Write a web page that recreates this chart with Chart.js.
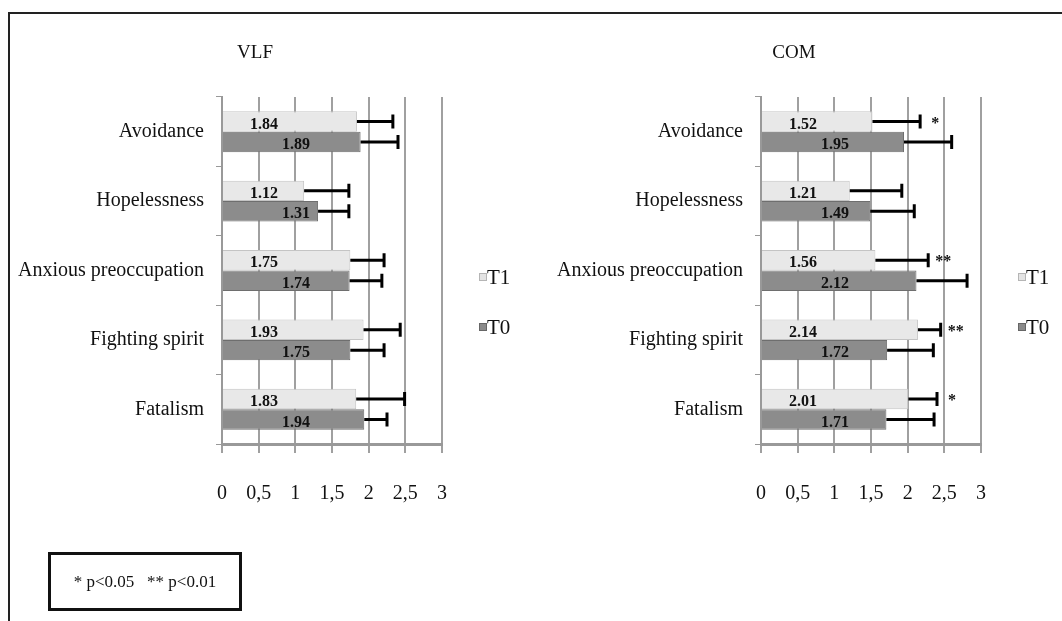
<!DOCTYPE html>
<html>
<head>
<meta charset="utf-8">
<script src="https://cdn.jsdelivr.net/npm/chart.js@4.4.0/dist/chart.umd.min.js"></script>
<style>
  body { margin: 0; background: #fff; }
  #page { position: relative; width: 1062px; height: 621px; overflow: hidden; background: #fff; }
  #frame { position: absolute; left: 8px; top: 12px; width: 1060px; height: 620px;
           border-left: 2px solid #222; border-top: 2px solid #222; }
  canvas { position: absolute; top: 0; }
  #c1 { left: 0; }
  #c2 { left: 539px; }
  #note { position: absolute; left: 48px; top: 552px; width: 188px; height: 53px;
          border: 3px solid #111; font: 17px "Liberation Serif", serif; color: #111;
          line-height: 53px; text-align: center; white-space: pre; }
</style>
</head>
<body>
<div id="page">
  <div id="frame"></div>
  <canvas id="c1" width="523" height="621"></canvas>
  <canvas id="c2" width="523" height="621"></canvas>
  <div id="note">* p&lt;0.05   ** p&lt;0.01</div>
</div>
<script>
/* ---------- data ---------- */
const categories = ["Avoidance", "Hopelessness", "Anxious preoccupation", "Fighting spirit", "Fatalism"];
const seriesNames = ["T1", "T0"];
const xTickLabels = ["0", "0,5", "1", "1,5", "2", "2,5", "3"];

// VLF
const vlfT1 = [1.84, 1.12, 1.75, 1.93, 1.83];
const vlfT0 = [1.89, 1.31, 1.74, 1.75, 1.94];
const vlfErrT1 = [0.49, 0.61, 0.46, 0.50, 0.66];
const vlfErrT0 = [0.51, 0.42, 0.44, 0.46, 0.31];
const vlfSig = ["", "", "", "", ""];

// COM
const comT1 = [1.52, 1.21, 1.56, 2.14, 2.01];
const comT0 = [1.95, 1.49, 2.12, 1.72, 1.71];
const comErrT1 = [0.65, 0.71, 0.72, 0.31, 0.39];
const comErrT0 = [0.65, 0.60, 0.69, 0.63, 0.65];
const comSig = ["*", "", "**", "**", "*"];

const SERIF = '"Liberation Serif", "Times New Roman", serif';

/* ---------- error bars, labels, legend, title ---------- */
const extrasPlugin = {
  id: "extras",
  afterDatasetsDraw(chart, args, opts) {
    const ctx = chart.ctx;
    const xs = chart.scales.x;
    const area = chart.chartArea;
    ctx.save();
    chart.data.datasets.forEach((ds, di) => {
      const meta = chart.getDatasetMeta(di);
      meta.data.forEach((bar, i) => {
        const v = ds.data[i];
        const xEnd = xs.getPixelForValue(v + ds.errors[i]);
        const x0 = xs.getPixelForValue(v);
        // error bar
        ctx.strokeStyle = "#000";
        ctx.lineWidth = 3;
        ctx.beginPath();
        ctx.moveTo(x0, bar.y);
        ctx.lineTo(xEnd, bar.y);
        ctx.moveTo(xEnd, bar.y - 7);
        ctx.lineTo(xEnd, bar.y + 7);
        ctx.stroke();
        // value label
        ctx.fillStyle = "#111";
        ctx.font = "bold 16px " + SERIF;
        ctx.textAlign = "center";
        ctx.textBaseline = "middle";
        const lx = area.left + (di === 0 ? 42 : 74);
        ctx.fillText(v.toFixed(2), lx, bar.y + 3);
        // significance marks next to T1 error bar
        if (di === 0 && opts.sig[i]) {
          ctx.font = "bold 16px " + SERIF;
          ctx.fillText(opts.sig[i], xEnd + 15, bar.y + 2);
        }
      });
    });
    ctx.restore();
  },
  afterDraw(chart, args, opts) {
    const ctx = chart.ctx;
    const area = chart.chartArea;
    ctx.save();
    // title
    ctx.fillStyle = "#111";
    ctx.font = "19px " + SERIF;
    ctx.textAlign = "center";
    ctx.textBaseline = "middle";
    ctx.fillText(opts.title, area.left + 33, 53);
    // legend
    const lx = 479;
    const items = [
      { y: 277, fill: "#e4e4e4", stroke: "#b5b5b5" },
      { y: 327, fill: "#8a8a8a", stroke: "#666" }
    ];
    items.forEach((it, k) => {
      ctx.fillStyle = it.fill;
      ctx.strokeStyle = it.stroke;
      ctx.lineWidth = 1;
      ctx.fillRect(lx, it.y - 4, 8, 8);
      ctx.strokeRect(lx + 0.5, it.y - 3.5, 7, 7);
      ctx.fillStyle = "#111";
      ctx.font = "21px " + SERIF;
      ctx.textAlign = "left";
      ctx.fillText(seriesNames[k], lx + 8, it.y + 1);
    });
    ctx.restore();
  }
};

function makeChart(id, title, t1, t0, e1, e0, sig) {
  return new Chart(document.getElementById(id), {
    type: "bar",
    data: {
      labels: categories,
      datasets: [
        {
          label: seriesNames[0],
          data: t1,
          errors: e1,
          backgroundColor: "#e8e8e8",
          borderColor: "#c4c4c4",
          borderWidth: 1,
          categoryPercentage: 0.59,
          barPercentage: 1
        },
        {
          label: seriesNames[1],
          data: t0,
          errors: e0,
          backgroundColor: "#8c8c8c",
          borderColor: "#6e6e6e",
          borderWidth: 1,
          categoryPercentage: 0.59,
          barPercentage: 1
        }
      ]
    },
    options: {
      indexAxis: "y",
      responsive: false,
      animation: false,
      layout: { padding: { top: 97, right: 81, left: 0, bottom: 0 } },
      scales: {
        x: {
          min: 0,
          max: 3,
          ticks: {
            stepSize: 0.5,
            padding: 29,
            color: "#111",
            font: { family: SERIF, size: 20 },
            callback: (v, i) => xTickLabels[i]
          },
          grid: { color: "#a0a0a0", lineWidth: 2, tickLength: 9 },
          border: { color: "#999", width: 3 },
          afterFit: (s) => { s.height = 177; }
        },
        y: {
          ticks: {
            padding: 12,
            color: "#111",
            font: { family: SERIF, size: 20 }
          },
          grid: { drawOnChartArea: false, color: "#999", tickLength: 6, offset: true },
          border: { color: "#999", width: 2 },
          afterFit: (s) => { s.width = 222; }
        }
      },
      plugins: {
        legend: { display: false },
        tooltip: { enabled: false },
        extras: { title: title, sig: sig }
      }
    },
    plugins: [extrasPlugin]
  });
}

makeChart("c1", "VLF", vlfT1, vlfT0, vlfErrT1, vlfErrT0, vlfSig);
makeChart("c2", "COM", comT1, comT0, comErrT1, comErrT0, comSig);
</script>
</body>
</html>
